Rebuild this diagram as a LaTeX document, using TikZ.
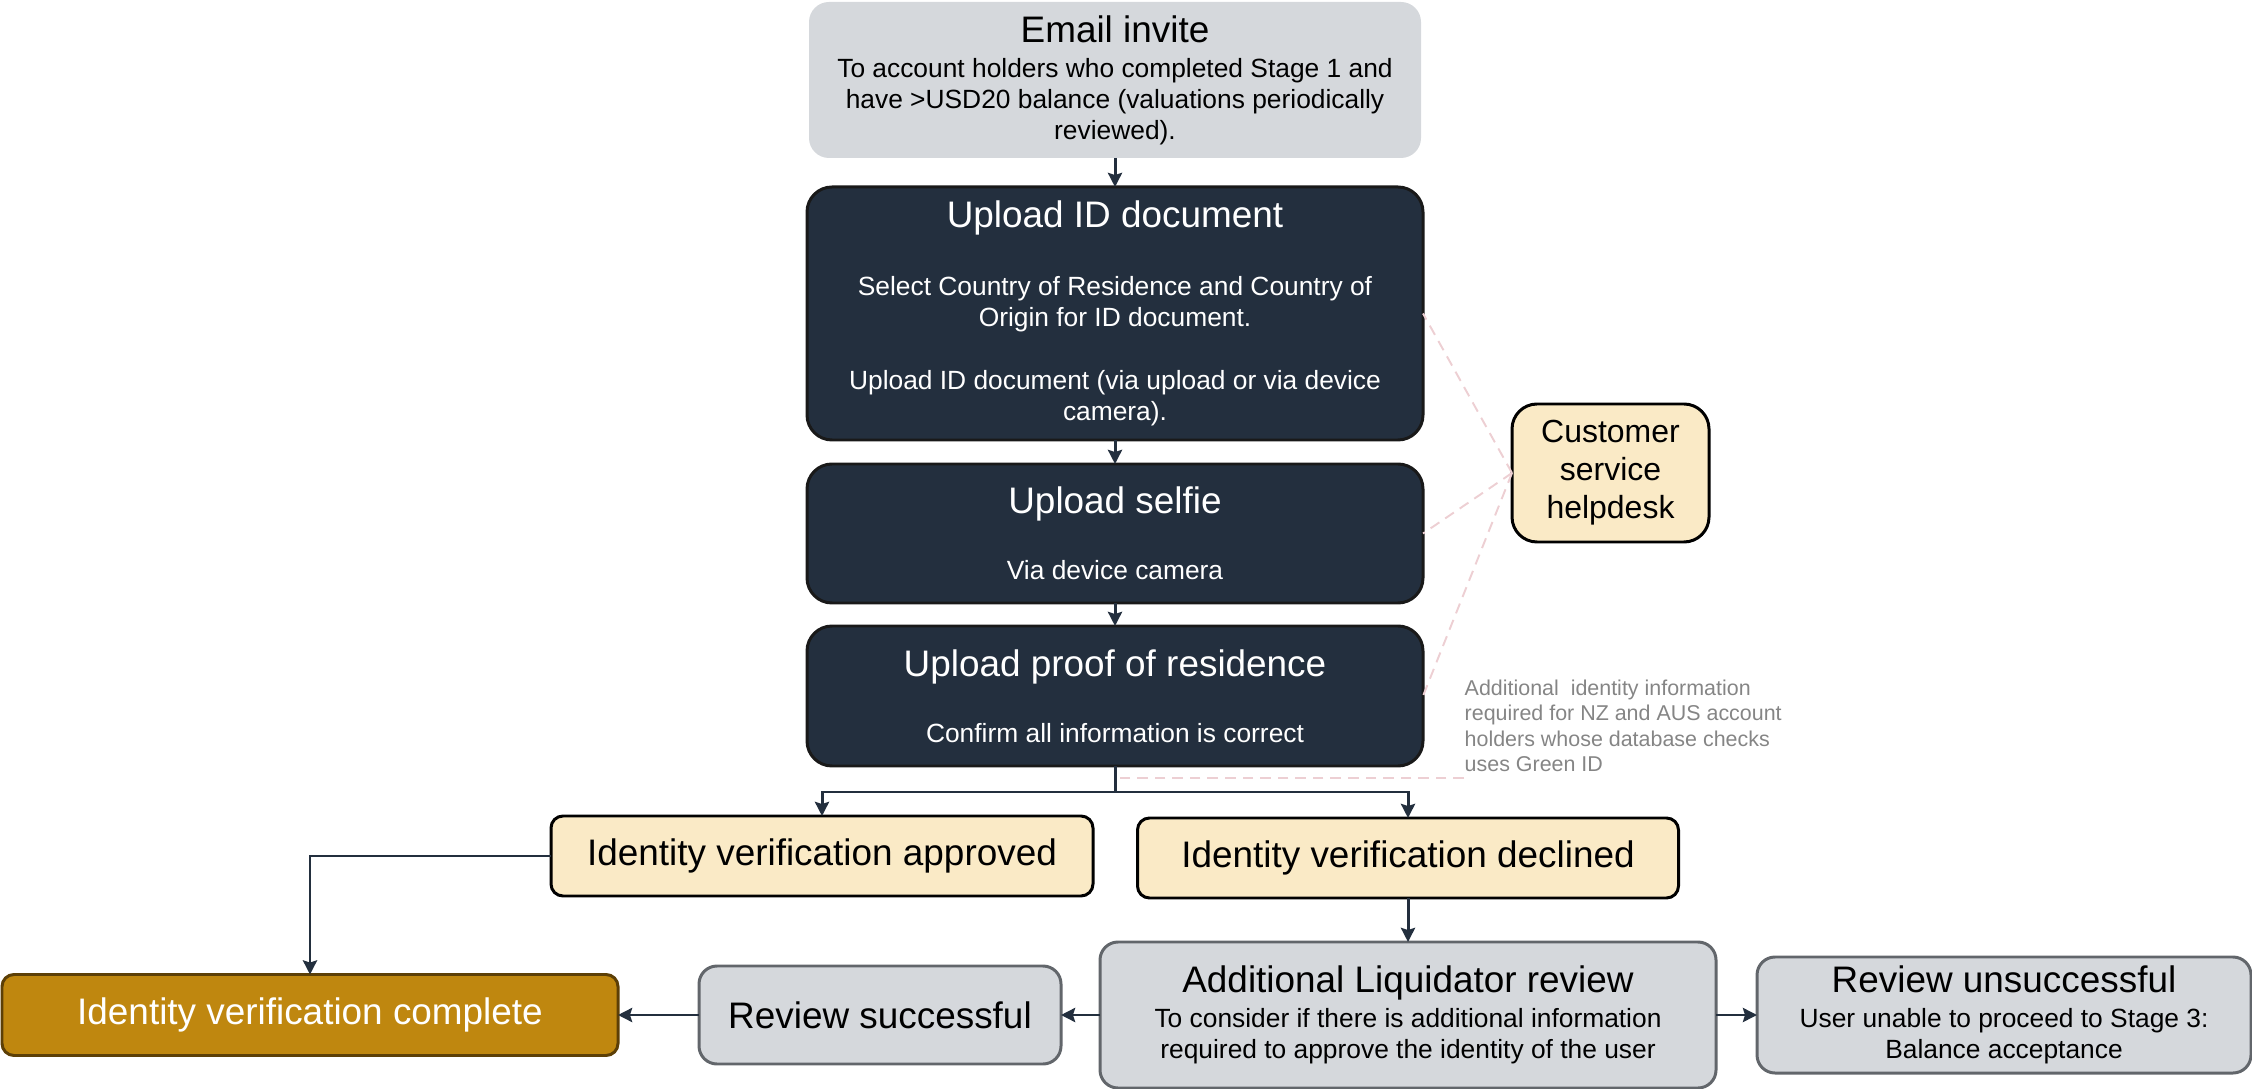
\documentclass[tikz,border=0pt]{standalone}
\usepackage{fontspec}
\setmainfont{Liberation Sans}
\usetikzlibrary{shapes,arrows.meta,positioning}
\definecolor{inkNavy}{HTML}{232F3E}
\definecolor{paleGrey}{HTML}{D5D8DC}
\definecolor{cream}{HTML}{FAEAC6}
\definecolor{ochre}{HTML}{BF870F}
\definecolor{ochreEdge}{HTML}{5C3F06}
\definecolor{greyEdge}{HTML}{62666B}
\definecolor{blush}{HTML}{EDCFD3}
\definecolor{noteGrey}{HTML}{858585}
\newcommand{\headsize}{\fontsize{10.5}{12.5}\selectfont}
\newcommand{\bodysize}{\fontsize{7.5}{8.8}\selectfont}
\tikzstyle{invite} = [rectangle, rounded corners=0.2cm, minimum width=6.12cm, minimum height=1.56cm, inner sep=0pt, outer sep=0pt, align=center, font=\bodysize, fill=paleGrey]
\tikzstyle{process} = [rectangle, rounded corners=0.25cm, minimum width=6.16cm, inner sep=0pt, outer sep=0pt, align=center, font=\bodysize, draw=black!90, line width=0.85pt, fill=inkNavy, text=white]
\tikzstyle{result} = [rectangle, rounded corners=0.12cm, minimum height=0.8cm, inner sep=0pt, outer sep=0pt, align=center, font=\headsize, draw=black, line width=0.85pt, fill=cream]
\tikzstyle{review} = [rectangle, rounded corners=0.18cm, inner sep=0pt, outer sep=0pt, align=center, font=\bodysize, draw=greyEdge, line width=0.85pt, fill=paleGrey]
\tikzstyle{finish} = [rectangle, rounded corners=0.12cm, minimum width=6.16cm, minimum height=0.81cm, inner sep=0pt, outer sep=0pt, align=center, font=\headsize, draw=ochreEdge, line width=0.85pt, fill=ochre, text=white]
\tikzstyle{helpdesk} = [rectangle, rounded corners=0.25cm, minimum width=1.97cm, minimum height=1.38cm, inner sep=0pt, outer sep=0pt, align=center, font=\fontsize{9.1}{10.8}\selectfont, draw=black, line width=0.85pt, fill=cream]
\tikzstyle{note} = [inner sep=0pt, align=left, text=noteGrey, font=\fontsize{6.1}{7.25}\selectfont]
\tikzstyle{flowArrow} = [line width=0.85pt, draw=inkNavy, -{Stealth[length=4pt,width=4pt,inset=0.6pt]}]
\tikzstyle{helpLine} = [blush, line width=0.55pt, dash pattern=on 3pt off 2pt]

\begin{document}
\begin{tikzpicture}
		\useasboundingbox (0,0) rectangle (22.52,-10.89);
		%blocks
		\node[invite](email) at (11.15,-0.80){{\headsize Email invite}\\[1.2pt]
			To account holders who completed Stage 1 and\\
			have >USD20 balance (valuations periodically\\
			reviewed).};
		\node[process, minimum height=2.53cm, below=0.29cm of email](idDoc){{\headsize Upload ID document}\\[10.6pt]
			Select Country of Residence and Country of\\
			Origin for ID document.\\[9.1pt]
			Upload ID document (via upload or via device\\
			camera).};
		\node[process, minimum height=1.39cm, below=0.24cm of idDoc](selfie){{\headsize Upload selfie}\\[10pt]
			Via device camera};
		\node[process, minimum height=1.40cm, below=0.23cm of selfie](proof){{\headsize Upload proof of residence}\\[10pt]
			Confirm all information is correct};
		\node[helpdesk, right=0.89cm of selfie, yshift=0.605cm](help){Customer\\service\\helpdesk};
		\node[note, anchor=north west](greenId) at ([xshift=0.41cm,yshift=0.17cm]proof.east){Additional~ identity information\\
			required for NZ and AUS account\\
			holders whose database checks\\
			uses Green ID};
		
		\node[result, minimum width=5.42cm, below=0.50cm of proof, xshift=-2.93cm](approved){Identity verification approved};
		\node[result, minimum width=5.41cm, below=0.52cm of proof, xshift=2.93cm](declined){Identity verification declined};
		\node[review, minimum width=6.16cm, minimum height=1.46cm, below=0.44cm of declined](liquidator){{\headsize Additional Liquidator review}\\[1pt]
			To consider if there is additional information\\
			required to approve the identity of the user};
		\node[review, minimum width=3.62cm, minimum height=0.98cm, left=0.39cm of liquidator](success){\headsize Review successful};
		\node[finish, left=0.81cm of success](complete){Identity verification complete};
		\node[review, minimum width=4.94cm, minimum height=1.16cm, right=0.41cm of liquidator](unsuccess){{\headsize Review unsuccessful}\\[1pt]
			User unable to proceed to Stage 3:\\
			Balance acceptance};
		
		%helpdesk links
		\draw[helpLine](help.west)--(idDoc.east);
		\draw[helpLine](help.west)--(selfie.east);
		\draw[helpLine](help.west)--(proof.east);
		\draw[helpLine]([yshift=-0.05cm]greenId.south west)--([yshift=-0.05cm]greenId.south west -| proof.south);
		
		%arrows
		\draw[flowArrow](email)--(idDoc);
		\draw[flowArrow](idDoc)--(selfie);
		\draw[flowArrow](selfie)--(proof);
		\draw[flowArrow](proof.south)--++(0,-0.26)-|(approved.north);
		\draw[flowArrow](proof.south)--++(0,-0.26)-|(declined.north);
		\draw[flowArrow](approved.west)-|(complete.north);
		\draw[flowArrow](declined)--(liquidator);
		\draw[flowArrow](liquidator)--(success);
		\draw[flowArrow](success)--(complete);
		\draw[flowArrow](liquidator)--(unsuccess);
	\end{tikzpicture}
\end{document}
